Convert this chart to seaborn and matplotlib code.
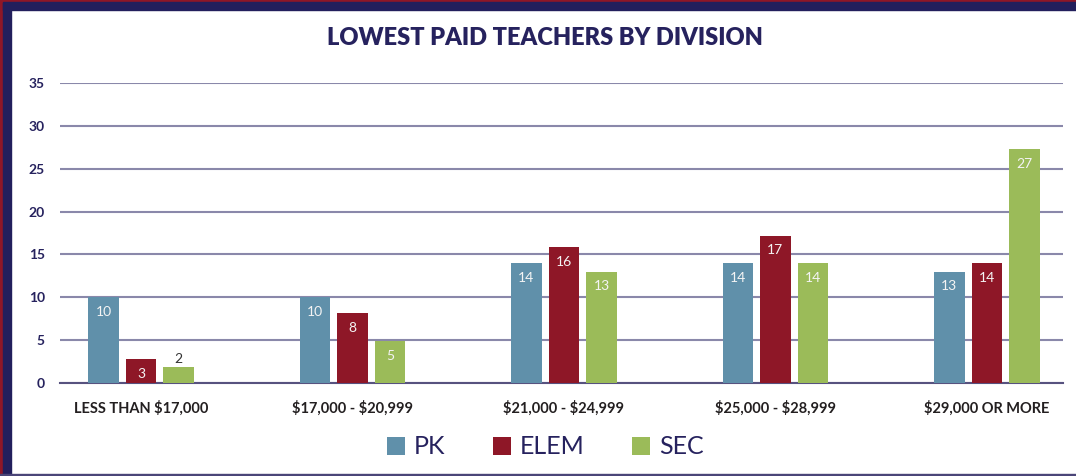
import pandas as pd
import matplotlib.pyplot as plt
import seaborn as sns
from matplotlib.patches import Rectangle

# Chart data
categories = ['LESS THAN $17,000', '$17,000 - $20,999', '$21,000 - $24,999',
              '$25,000 - $28,999', '$29,000 OR MORE']
divisions = ['PK', 'ELEM', 'SEC']
pk_values = [10.0, 10.0, 14.0, 14.0, 13.0]
elem_values = [2.8, 8.2, 15.9, 17.2, 14.0]
sec_values = [1.9, 4.9, 13.0, 14.0, 27.3]
colors = ['#6090aa', '#8e1727', '#9bbb59']

navy = '#26225e'

df = pd.DataFrame({
    'range': categories * 3,
    'division': [d for d in divisions for _ in categories],
    'share': pk_values + elem_values + sec_values,
})

sns.set_style('white')
plt.rcParams['font.family'] = ['Lato', 'DejaVu Sans']
plt.rcParams['text.parse_math'] = False  # dollar signs are literal

fig = plt.figure(figsize=(10.76, 4.76), dpi=100)
ax = fig.add_axes([60 / 1076, 93 / 476, 1003 / 1076, 300 / 476])

sns.barplot(data=df, x='range', y='share', hue='division', order=categories,
            hue_order=divisions, palette=colors, width=0.532, gap=0.19,
            saturation=1, linewidth=0, edgecolor='none', ax=ax, zorder=3)

ax.set_xlim(-0.383, 4.36)
ax.set_ylim(0, 35)
ax.set_yticks(range(0, 36, 5))
ax.grid(axis='y', color='#8a88aa', linewidth=1.5, zorder=0)
ax.set_axisbelow(True)
for s in ['top', 'right', 'left']:
    ax.spines[s].set_visible(False)
ax.spines['bottom'].set_color('#57527f')
ax.spines['bottom'].set_linewidth(1.5)
ax.set_xlabel('')
ax.set_ylabel('')
ax.tick_params(axis='y', length=0, pad=11, labelsize=10, labelcolor=navy)
ax.tick_params(axis='x', length=0, pad=13, labelsize=10.5, labelcolor='#231f20')
for lab in ax.get_yticklabels() + ax.get_xticklabels():
    lab.set_fontweight('bold')

# value labels: inside the bar top, or just above for tiny bars
for container in ax.containers:
    vals = [b.get_height() for b in container]
    inside = [f'{v:.0f}' if v >= 2.5 else '' for v in vals]
    outside = [f'{v:.0f}' if v < 2.5 else '' for v in vals]
    ax.bar_label(container, labels=inside, padding=-15, color='#f4f4f4', fontsize=10)
    ax.bar_label(container, labels=outside, padding=1, color='#333333', fontsize=10)

# legend
handles, labels = ax.get_legend_handles_labels()
ax.legend(handles, labels, loc='center', bbox_to_anchor=(545 / 1076, 29 / 476),
          bbox_transform=fig.transFigure, ncol=3, frameon=False, fontsize=18,
          handlelength=0.72, handleheight=0.72, handletextpad=0.36,
          columnspacing=1.9, labelcolor=navy)

fig.text(545 / 1076, 1 - 38 / 476, 'LOWEST PAID TEACHERS BY DIVISION',
         ha='center', va='center', fontsize=17, fontweight='heavy', color=navy)

# frame around the graphic
fig.patches.append(Rectangle((0, 0), 3 / 1076, 1, transform=fig.transFigure,
                             color='#8e1727', zorder=10))
fig.patches.append(Rectangle((3 / 1076, 0), 8 / 1076, 1, transform=fig.transFigure,
                             color='#221f5c', zorder=10))
fig.patches.append(Rectangle((0, 1 - 2 / 476), 1, 2 / 476, transform=fig.transFigure,
                             color='#8e1727', zorder=10))
fig.patches.append(Rectangle((3 / 1076, 1 - 10 / 476), 1, 8 / 476,
                             transform=fig.transFigure, color='#221f5c', zorder=10))
fig.patches.append(Rectangle((0, 0), 1, 2 / 476, transform=fig.transFigure,
                             color='#4a4578', zorder=10))

fig.savefig('out.png', dpi=100)
